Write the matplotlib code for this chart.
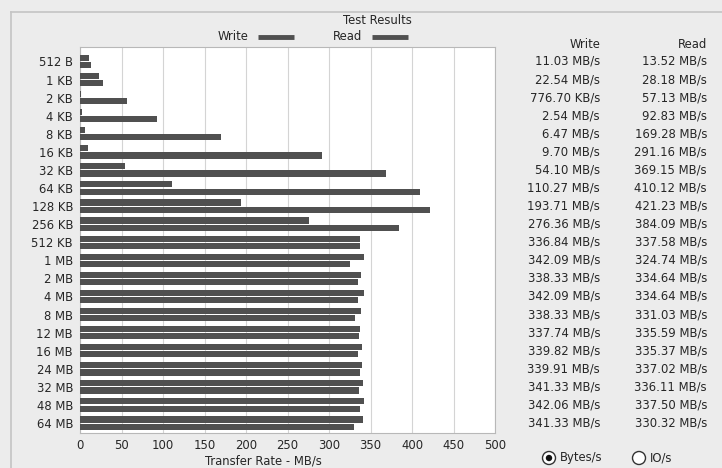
import matplotlib
matplotlib.use("Agg")
import matplotlib.pyplot as plt
from matplotlib.transforms import blended_transform_factory
from matplotlib.patches import Circle
from matplotlib.lines import Line2D

plt.rcParams['font.family'] = ['DejaVu Sans']

categories = ["512 B", "1 KB", "2 KB", "4 KB", "8 KB", "16 KB", "32 KB", "64 KB",
              "128 KB", "256 KB", "512 KB", "1 MB", "2 MB", "4 MB", "8 MB", "12 MB",
              "16 MB", "24 MB", "32 MB", "48 MB", "64 MB"]
write_mbs = [11.03, 22.54, 0.7767, 2.54, 6.47, 9.70, 54.10, 110.27, 193.71, 276.36,
             336.84, 342.09, 338.33, 342.09, 338.33, 337.74, 339.82, 339.91, 341.33,
             342.06, 341.33]
read_mbs = [13.52, 28.18, 57.13, 92.83, 169.28, 291.16, 369.15, 410.12, 421.23, 384.09,
            337.58, 324.74, 334.64, 334.64, 331.03, 335.59, 335.37, 337.02, 336.11,
            337.50, 330.32]
x_ticks = [0, 50, 100, 150, 200, 250, 300, 350, 400, 450, 500]


def fmt(v):
    if v < 1:
        return f"{v * 1000:.2f} KB/s"
    return f"{v:.2f} MB/s"


W, H = 722, 468
bg = "#ececec"
bar_c = "#505050"
txt_c = "#262626"
fs = 8.4

fig = plt.figure(figsize=(W / 100, H / 100), dpi=100, facecolor=bg)
ax = fig.add_axes([80 / W, 1 - 433 / H, 415 / W, (433 - 47) / H])
ax.set_facecolor("white")

y = list(range(len(categories)))
bh = 0.34
ax.barh([i - 0.2 for i in y], write_mbs, height=bh, color=bar_c, zorder=3)
ax.barh([i + 0.2 for i in y], read_mbs, height=bh, color=bar_c, zorder=3)

ax.set_xlim(0, 500)
ax.set_ylim(20.55, -0.8)
ax.set_xticks(x_ticks)
ax.set_xticklabels([str(t) for t in x_ticks], fontsize=fs, color=txt_c)
ax.set_yticks(y)
ax.set_yticklabels(categories, fontsize=fs, color=txt_c)
ax.tick_params(length=0, pad=5)
ax.tick_params(axis="x", pad=4)
ax.xaxis.grid(True, color="#d4d4d4", linewidth=0.8, zorder=0)
for s in ax.spines.values():
    s.set_color("#b8b8b8")
    s.set_linewidth(0.8)
ax.set_xlabel("Transfer Rate - MB/s", fontsize=fs, color=txt_c, labelpad=1)
ax.xaxis.set_label_coords((263 - 80) / 415, -0.055)

# panel border
fig.add_artist(Line2D([11 / W, 11 / W], [0, 1 - 12 / H], transform=fig.transFigure,
                      color="#c4c4c4", linewidth=1.2))
fig.add_artist(Line2D([11 / W, 1], [1 - 12 / H, 1 - 12 / H], transform=fig.transFigure,
                      color="#c4c4c4", linewidth=1.2))

# title and legend
fig.text(377 / W, 1 - 20 / H, "Test Results", fontsize=fs, color=txt_c,
         ha="center", va="center")
fig.text(248 / W, 1 - 37 / H, "Write", fontsize=fs, color=txt_c, ha="right", va="center")
fig.add_artist(Line2D([258 / W, 294 / W], [1 - 37 / H, 1 - 37 / H], transform=fig.transFigure,
                      color=bar_c, linewidth=3.5, solid_capstyle="butt"))
fig.text(362 / W, 1 - 37 / H, "Read", fontsize=fs, color=txt_c, ha="right", va="center")
fig.add_artist(Line2D([372 / W, 408 / W], [1 - 37 / H, 1 - 37 / H], transform=fig.transFigure,
                      color=bar_c, linewidth=3.5, solid_capstyle="butt"))

# value table
tr = blended_transform_factory(fig.transFigure, ax.transData)
ax.text(600 / W, -0.95, "Write", transform=tr, fontsize=fs, color=txt_c,
        ha="right", va="center", clip_on=False)
ax.text(707 / W, -0.95, "Read", transform=tr, fontsize=fs, color=txt_c,
        ha="right", va="center", clip_on=False)
for i in y:
    ax.text(600 / W, i, fmt(write_mbs[i]), transform=tr, fontsize=fs, color=txt_c,
            ha="right", va="center", clip_on=False)
    ax.text(707 / W, i, fmt(read_mbs[i]), transform=tr, fontsize=fs, color=txt_c,
            ha="right", va="center", clip_on=False)

# radio buttons
ry = 1 - 458 / H
for cx, label, sel in [(549, "Bytes/s", True), (639, "IO/s", False)]:
    fig.add_artist(Circle((cx, H - 458), 6.5, transform=None, facecolor="white",
                          edgecolor="#333333", linewidth=1.0))
    if sel:
        fig.add_artist(Circle((cx, H - 458), 3.2, transform=None, facecolor="#111111",
                              edgecolor="none"))
    fig.text((cx + 11) / W, ry, label, fontsize=fs, color=txt_c, ha="left", va="center")

fig.savefig("out.png", dpi=100, facecolor=bg)
